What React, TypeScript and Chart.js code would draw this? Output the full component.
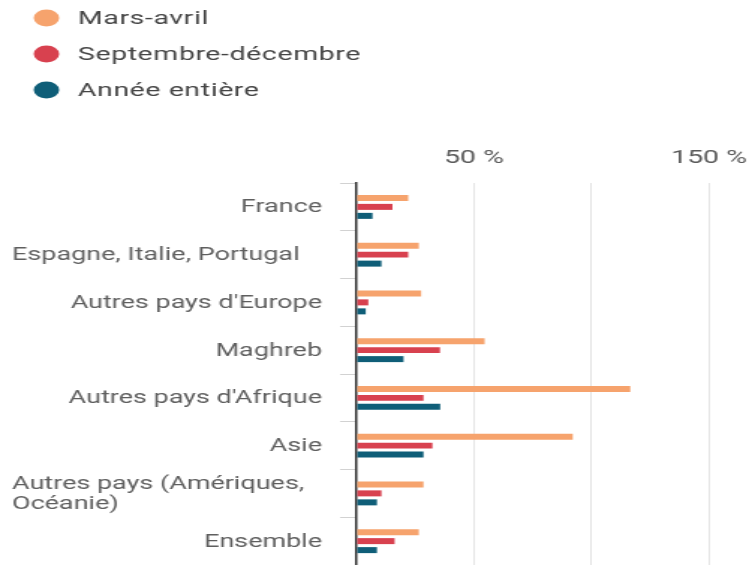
import React, { useEffect, useRef } from 'react';
import { Chart, registerables } from 'chart.js';

Chart.register(...registerables);

// ---- data ----
const categories: (string | string[])[] = [
  'France',
  'Espagne, Italie, Portugal',
  "Autres pays d'Europe",
  'Maghreb',
  "Autres pays d'Afrique",
  'Asie',
  ['Autres pays (Amériques,', 'Océanie)'],
  'Ensemble',
];
const seriesNames = ['Mars-avril', 'Septembre-décembre', 'Année entière'];
const marsAvril = [22, 26.5, 27.5, 54.5, 116.5, 92, 28.5, 26.5];
const septembreDecembre = [15.3, 22, 5, 35.5, 28.5, 32.3, 10.6, 16.2];
const anneeEntiere = [6.8, 10.6, 3.9, 20, 35.6, 28.5, 8.7, 8.7];
const xTickValues = [0, 50, 100, 150];
const xTickLabels = ['', '50 %', '', '150 %'];

// ---- style ----
const seriesColors = ['#f6a36d', '#d8414f', '#0f5e78'];
const FONT = 'Roboto';
const STRETCH_W = 500; // internal canvas width, displayed stretched to 749

const legendPlugin = {
  id: 'stackedLegend',
  afterDraw(chart: any) {
    const ctx = chart.ctx;
    ctx.save();
    ctx.font = `19px ${FONT}`;
    try { (ctx as any).letterSpacing = '0.4px'; } catch (e) {}
    ctx.textBaseline = 'middle';
    ctx.textAlign = 'left';
    chart.data.datasets.forEach((ds: any, i: number) => {
      const y = 18 + i * 36;
      ctx.beginPath();
      ctx.fillStyle = ds.backgroundColor;
      ctx.arc(31, y, 8.5, 0, Math.PI * 2);
      ctx.fill();
      ctx.fillStyle = '#454545';
      ctx.fillText(ds.label, 52, y + 1);
    });
    ctx.restore();
  },
};

const categoryLabelPlugin = {
  id: 'categoryLabels',
  afterDraw(chart: any) {
    const ctx = chart.ctx;
    const yScale = chart.scales.y;
    const rightX = 215;
    const leftX = 8;
    const lineH = 20;
    ctx.save();
    ctx.font = `18px ${FONT}`;
    ctx.fillStyle = '#5f5f5f';
    ctx.textBaseline = 'middle';
    (chart.data.labels as any[]).forEach((lab, i) => {
      const lines: string[] = Array.isArray(lab) ? lab : [lab];
      const yc = yScale.getPixelForValue(i);
      const maxW = Math.max(...lines.map((l) => ctx.measureText(l).width));
      const wrapped = lines.length > 1 || maxW > 0.9 * (rightX - leftX);
      ctx.textAlign = wrapped ? 'left' : 'right';
      const x = wrapped ? leftX : rightX;
      const y0 = yc - ((lines.length - 1) * lineH) / 2;
      lines.forEach((l, k) => ctx.fillText(l, x, y0 + k * lineH + 1));
    });
    ctx.restore();
  },
};

export default function App() {
  const ref = useRef<HTMLCanvasElement | null>(null);

  useEffect(() => {
    const canvas = ref.current!;
    Chart.defaults.font.family = FONT;
    const chart = new Chart(canvas, {
      type: 'bar',
      data: {
        labels: categories as any,
        datasets: [
          { label: seriesNames[0], data: marsAvril, backgroundColor: seriesColors[0] },
          { label: seriesNames[1], data: septembreDecembre, backgroundColor: seriesColors[1] },
          { label: seriesNames[2], data: anneeEntiere, backgroundColor: seriesColors[2] },
        ],
      },
      options: {
        indexAxis: 'y',
        responsive: false,
        animation: false,
        events: [],
        layout: { padding: { top: 133, right: 11, bottom: 0, left: 0 } },
        datasets: {
          bar: { categoryPercentage: 0.565, barPercentage: 0.667, borderWidth: 0 },
        },
        plugins: {
          legend: { display: false },
          tooltip: { enabled: false },
        },
        scales: {
          x: {
            type: 'linear',
            position: 'top',
            min: 0,
            max: 160,
            afterBuildTicks: (scale: any) => {
              scale.ticks = xTickValues.map((v) => ({ value: v }));
            },
            afterFit: (scale: any) => {
              scale.height = 50;
              scale.paddingLeft = 0;
              scale.paddingRight = 0;
            },
            ticks: {
              padding: 13,
              color: '#5a5a5a',
              font: { size: 19 },
              maxRotation: 0,
              autoSkip: false,
              callback: (v: any) => {
                const idx = xTickValues.indexOf(Number(v));
                return idx >= 0 ? xTickLabels[idx] : '';
              },
            },
            grid: {
              drawTicks: false,
              lineWidth: 1,
              color: (c: any) => (c.tick && c.tick.value === 0 ? 'rgba(0,0,0,0)' : '#e4e4e4'),
            },
            border: { display: false },
          },
          y: {
            type: 'category',
            position: 'left',
            afterFit: (scale: any) => {
              scale.width = 238;
              scale.paddingTop = 0;
              scale.paddingBottom = 0;
            },
            ticks: { display: false },
            grid: {
              offset: true,
              drawOnChartArea: false,
              drawTicks: true,
              tickLength: 11,
              color: '#d2d2d2',
              lineWidth: 1,
            },
            border: { display: true, color: '#333333', width: 1.5 },
          },
        },
      },
      plugins: [legendPlugin, categoryLabelPlugin],
    } as any);
    return () => chart.destroy();
  }, []);

  return (
    <div style={{ position: 'fixed', left: 0, top: 0, width: 749, height: 565, background: '#ffffff' }}>
      <canvas
        ref={ref}
        width={STRETCH_W}
        height={565}
        style={{ width: '749px', height: '565px', display: 'block' }}
      />
    </div>
  );
}
